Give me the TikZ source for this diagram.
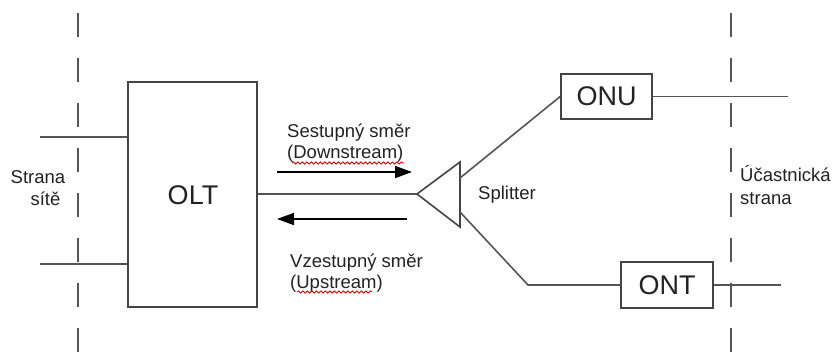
\documentclass[tikz,border=0pt]{standalone}
\usepackage{fontspec}
\setmainfont{Liberation Sans}
\usetikzlibrary{arrows.meta,decorations.pathmorphing}
\definecolor{linegray}{HTML}{555555}
\definecolor{boxgray}{HTML}{444444}
\definecolor{txtgray}{HTML}{222222}
\begin{document}
\begin{tikzpicture}[x=1pt,y=-1pt,
  wire/.style={draw=linegray,line width=1.6pt},
  boxnode/.style={draw=boxgray,line width=1.6pt,fill=white,rectangle,inner sep=0pt,text=txtgray,font=\fontsize{27}{30}\selectfont},
  lbl/.style={text=txtgray,font=\fontsize{18.5}{21}\selectfont,inner sep=0pt,anchor=base west},
  border/.style={draw=linegray,line width=1.6pt,dash pattern=on 24pt off 21pt},
  flow/.style={draw=black,line width=1.6pt,-{Triangle[length=17pt,width=12pt]}},
  squig/.style={draw=red!85!black,line width=0.8pt,decorate,decoration={snake,amplitude=1.1pt,segment length=4.5pt}}]
\useasboundingbox (0,0) rectangle (834,358);
\fill[white] (0,0) rectangle (834,358);
% dashed borders
\coordinate (lt) at (78,13); \coordinate (lb) at (78,358);
\coordinate (rt) at (731,13); \coordinate (rb) at (731,358);
\draw[border] (lt) -- (lb);
\draw[border] (rt) -- (rb);
% OLT
\node[boxnode,minimum width=129pt,minimum height=225pt] (olt) at (192.5,194.5) {};
\node[text=txtgray,font=\fontsize{27}{30}\selectfont,inner sep=0pt] (oltlbl) at (193,195) {OLT};
\coordinate (in1) at (40,137); \coordinate (in2) at (40,264);
\draw[wire] (in1) -- (in1 -| olt.west);
\draw[wire] (in2) -- (in2 -| olt.west);
% splitter
\coordinate (sp) at (417,194);
\coordinate (spt) at (460,162);
\coordinate (spb) at (460,227);
\coordinate (spu) at (460,178);
\coordinate (spd) at (460,212);
\draw[wire] (olt.east |- sp) -- (sp);
\draw[draw=boxgray,line width=1.6pt,line join=miter] (sp) -- (spt) -- (spb) -- cycle;
% ONU / ONT
\node[boxnode,minimum width=91pt,minimum height=45pt] (onu) at (606.5,96.5) {ONU};
\node[boxnode,minimum width=92pt,minimum height=46pt] (ont) at (667,285) {ONT};
\coordinate (bend) at (528,285);
\draw[wire] (spu) -- (onu.west);
\draw[wire] (spd) -- (bend) -- (ont.west);
\coordinate (onuout) at (788,96.5);
\coordinate (ontout) at (781,285);
\draw[wire] (onu.east) -- (onuout);
\draw[wire] (ont.east) -- (ontout);
% arrows
\coordinate (ds) at (277,172); \coordinate (de) at (412,172);
\coordinate (us) at (407,219); \coordinate (ue) at (277,219);
\draw[flow] (ds) -- (de);
\draw[flow] (us) -- (ue);
% labels
\node[lbl,anchor=base] (l1) at (38,183) {Strana};
\node[lbl,anchor=base] (l2) at (45.5,205) {sítě};
\node[lbl] (d1) at (287,138) {Sestupný směr};
\node[lbl] (d2) at (287,159) {(Downstream)};
\node[lbl] (u1) at (290,267) {Vzestupný směr};
\node[lbl] (u2) at (290,288) {(Upstream)};
\node[lbl] (spl) at (478,199) {Splitter};
\node[lbl] (r1) at (740,182) {Účastnická};
\node[lbl] (r2) at (740,204) {strana};
\coordinate (sq1a) at (292,163); \coordinate (sq1b) at (404,163);
\coordinate (sq2a) at (297,292); \coordinate (sq2b) at (372,292);
\draw[squig] (sq1a) -- (sq1b);
\draw[squig] (sq2a) -- (sq2b);
\end{tikzpicture}
\end{document}
